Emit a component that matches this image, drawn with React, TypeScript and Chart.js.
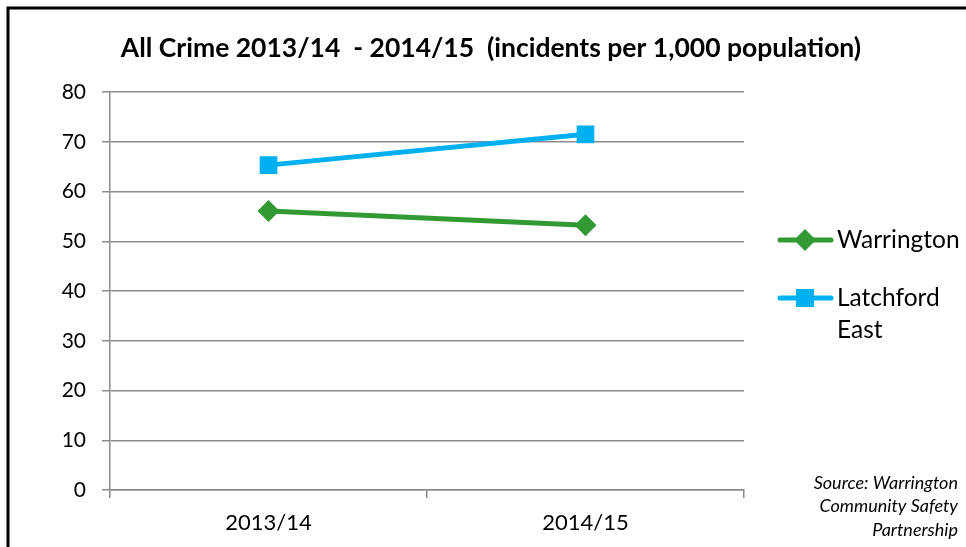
import React, { useEffect, useRef } from "react";
import { Chart, registerables } from "chart.js";

Chart.register(...registerables);

const categories = ["2013/14", "2014/15"];
const warrington = [56.1, 53.2];
const latchfordEast = [65.3, 71.5];
const seriesLabels = [["Warrington"], ["Latchford", "East"]];
const yTicks = [0, 10, 20, 30, 40, 50, 60, 70, 80];
const titleText = "All Crime 2013/14  - 2014/15  (incidents per 1,000 population)";
const sourceLines = ["Source: Warrington", "Community Safety", "Partnership"];

const FONT = "Lato, 'Open Sans', sans-serif";

const extrasPlugin = {
  id: "extras",
  afterDraw(chart: any) {
    const ctx = chart.ctx;
    ctx.save();
    // frame
    ctx.strokeStyle = "#000";
    ctx.lineWidth = 3;
    ctx.beginPath();
    ctx.moveTo(8, 547);
    ctx.lineTo(8, 8);
    ctx.lineTo(966, 8);
    ctx.stroke();
    // title
    ctx.fillStyle = "#000";
    ctx.font = `bold 26.5px ${FONT}`;
    ctx.textAlign = "center";
    ctx.textBaseline = "middle";
    ctx.fillText(titleText, 491, 48);
    // legend
    const legendY = [240, 298];
    chart.data.datasets.forEach((ds: any, i: number) => {
      const y = legendY[i];
      ctx.strokeStyle = ds.borderColor;
      ctx.lineWidth = 5;
      ctx.lineCap = "round";
      ctx.beginPath();
      ctx.moveTo(780, y);
      ctx.lineTo(831, y);
      ctx.stroke();
      ctx.fillStyle = ds.backgroundColor;
      if (ds.pointStyle === "rectRot") {
        const r = 11;
        ctx.beginPath();
        ctx.moveTo(805, y - r);
        ctx.lineTo(805 + r, y);
        ctx.lineTo(805, y + r);
        ctx.lineTo(805 - r, y);
        ctx.closePath();
        ctx.fill();
      } else {
        ctx.fillRect(805 - 9, y - 9, 18, 18);
      }
      ctx.fillStyle = "#000";
      ctx.font = `24.5px ${FONT}`;
      ctx.textAlign = "left";
      ctx.textBaseline = "middle";
      seriesLabels[i].forEach((t, j) => ctx.fillText(t, 837, y + j * 32));
    });
    // source
    ctx.font = `italic 18px ${FONT}`;
    ctx.textAlign = "right";
    ctx.textBaseline = "middle";
    sourceLines.forEach((t, j) => ctx.fillText(t, 958, 483 + j * 23.5));
    ctx.restore();
  },
};

export default function App() {
  const ref = useRef<HTMLCanvasElement | null>(null);
  useEffect(() => {
    document.body.style.margin = "0";
    const chart = new Chart(ref.current!, {
      type: "line",
      data: {
        labels: categories,
        datasets: [
          {
            label: "Warrington",
            data: warrington,
            borderColor: "#339933",
            backgroundColor: "#339933",
            borderWidth: 5,
            pointStyle: "rectRot",
            pointRadius: 11,
            pointHoverRadius: 11,
            pointBorderWidth: 0,
          },
          {
            label: "Latchford East",
            data: latchfordEast,
            borderColor: "#00B0F0",
            backgroundColor: "#00B0F0",
            borderWidth: 5,
            pointStyle: "rect",
            pointRadius: 12.5,
            pointHoverRadius: 12.5,
            pointBorderWidth: 0,
          },
        ],
      },
      options: {
        animation: false,
        responsive: false,
        devicePixelRatio: 1,
        layout: { padding: { left: 0, right: 222, top: 92, bottom: 0 } },
        plugins: { legend: { display: false }, title: { display: false }, tooltip: { enabled: false } },
        scales: {
          x: {
            type: "category",
            offset: true,
            afterFit: (s: any) => { s.height = 57; },
            grid: { offset: true, drawOnChartArea: false, drawTicks: true, tickLength: 8, color: "#8c8c8c", lineWidth: 1.5 },
            border: { color: "#8c8c8c", width: 1.5 },
            ticks: { color: "#000", font: { family: FONT, size: 22 }, padding: 12 },
          },
          y: {
            min: 0,
            max: 80,
            afterFit: (s: any) => { s.width = 110; },
            afterBuildTicks: (s: any) => { s.ticks = yTicks.map((v) => ({ value: v })); },
            grid: { color: "#8c8c8c", lineWidth: 1.5, tickLength: 8 },
            border: { color: "#8c8c8c", width: 1.5 },
            ticks: { color: "#000", font: { family: FONT, size: 21 }, padding: 16 },
          },
        },
      },
      plugins: [extrasPlugin],
    });
    return () => chart.destroy();
  }, []);
  return (
    <div style={{ position: "absolute", left: 0, top: 0, width: 966, height: 547, background: "#fff" }}>
      <canvas ref={ref} width={966} height={547} style={{ width: 966, height: 547 }} />
    </div>
  );
}
